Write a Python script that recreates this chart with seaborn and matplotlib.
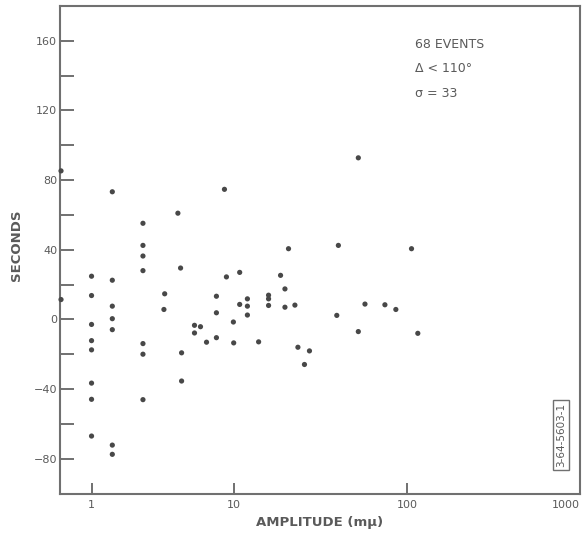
import numpy as np
import pandas as pd
import matplotlib
matplotlib.use("Agg")
import matplotlib.pyplot as plt
import matplotlib.ticker as mticker
import seaborn as sns

# ---- data ----
amplitude = [0.61, 0.61,
             1.0, 1.0, 1.0, 1.0, 1.0, 1.0, 1.0, 1.0,
             1.4, 1.4, 1.4, 1.4, 1.4, 1.4, 1.4,
             2.3, 2.3, 2.3, 2.3, 2.3, 2.3, 2.3,
             3.27, 3.23,
             4.05, 4.23, 4.30, 4.30,
             5.30, 5.30, 5.84, 6.44,
             7.56, 7.56, 7.56,
             8.61, 8.89, 9.95, 10.0,
             10.83, 10.83,
             12.0, 12.0, 12.0,
             13.93,
             15.9, 15.9, 15.9,
             18.65, 19.77, 19.77, 20.73, 22.57, 23.49, 25.63, 27.39,
             39.39, 40.23, 52.45, 52.45, 57.3, 74.7, 86.4, 106.4, 115.7]
seconds = [85.3, 11.4,
           24.8, 13.7, -2.9, -12.2, -17.5, -36.6, -45.9, -67.0,
           73.3, 22.5, 7.6, 0.4, -5.9, -72.2, -77.5,
           55.2, 42.5, 36.4, 28.0, -13.9, -20.0, -46.1,
           14.7, 5.7,
           61.0, 29.5, -19.2, -35.4,
           -3.4, -7.8, -4.2, -13.1,
           13.3, 3.8, -10.5,
           74.7, 24.4, -1.5, -13.5,
           27.0, 8.6,
           11.8, 7.6, 2.5,
           -12.9,
           13.9, 11.8, 8.0,
           25.3, 17.5, 7.0, 40.6, 8.2, -16.0, -25.9, -18.1,
           2.3, 42.5, 92.8, -7.0, 8.8, 8.4, 5.7, 40.6, -8.0]

y_major = [-80, -40, 0, 40, 80, 120, 160]
y_minor = [-60, -20, 20, 60, 100, 140]
x_ticks = [1, 10, 100, 1000]
x_ticklabels = ["1", "10", "100", "1000"]
notes = ["68 EVENTS", "\u0394 < 110\u00b0", "\u03c3 = 33"]
stamp = "3-64-5603-1"

df = pd.DataFrame({"amplitude": amplitude, "seconds": seconds})

sns.set_theme(style="white")
plt.rcParams["font.family"] = ["DejaVu Sans"]

GRAY = "#5a5a5a"
SPINE = "#707070"

fig = plt.figure(figsize=(5.83, 5.36), dpi=100)
ax = fig.add_axes([60 / 583, 1 - 493.5 / 536, 520 / 583, 487.5 / 536])

# hand-drawn log paper: first decade is slightly compressed
K = 142.6 / 173.7


def fwd(x):
    u = np.log10(np.clip(np.asarray(x, dtype=float), 1e-12, None))
    return np.where(u < 1, 1 + (u - 1) * K, u)


def inv(t):
    t = np.asarray(t, dtype=float)
    u = np.where(t < 1, 1 + (t - 1) / K, t)
    return 10 ** u


ax.set_xscale("function", functions=(fwd, inv))

sns.scatterplot(data=df, x="amplitude", y="seconds", ax=ax,
                color="#484848", s=14, edgecolor="none", linewidth=0,
                clip_on=False, zorder=3)

ax.set_xlim(0.6, 1000)
ax.set_ylim(-100, 180)

ax.xaxis.set_major_locator(mticker.FixedLocator(x_ticks))
ax.xaxis.set_minor_locator(mticker.NullLocator())
ax.set_xticklabels(x_ticklabels)
ax.yaxis.set_major_locator(mticker.FixedLocator(y_major))
ax.yaxis.set_minor_locator(mticker.FixedLocator(y_minor))

ax.tick_params(axis="y", which="both", direction="in", length=10, width=1.4,
               color=SPINE, labelsize=8, labelcolor=GRAY, pad=2,
               left=True)
ax.tick_params(axis="x", which="major", direction="in", length=8, width=1.4,
               color=SPINE, labelsize=8, labelcolor=GRAY, pad=5,
               bottom=True)
for lab in ax.get_xticklabels():
    if lab.get_text() == "1000":
        lab.set_horizontalalignment("right")

for sp in ax.spines.values():
    sp.set_color(SPINE)
    sp.set_linewidth(1.5)
    sp.set_visible(True)

ax.set_xlabel("AMPLITUDE (m\u03bc)", fontsize=9.5, color=GRAY,
              fontweight="semibold")
ax.set_ylabel("SECONDS", fontsize=9.5, color=GRAY, fontweight="semibold")
ax.xaxis.set_label_coords(0.5, -0.046)
ax.xaxis.label.set_verticalalignment("top")
ax.yaxis.set_label_coords(-0.071, 0.51)

for i, txt in enumerate(notes):
    ax.text(0.683, 0.922 - i * 0.051, txt, transform=ax.transAxes,
            fontsize=9, color=GRAY, ha="left", va="center")

ax.text(0.963, 0.12, stamp, transform=ax.transAxes, rotation=90,
        fontsize=7.5, color=GRAY, ha="center", va="center",
        bbox=dict(boxstyle="square,pad=0.3", fc="white", ec=SPINE, lw=1.0))

ax.set_facecolor("white")
fig.patch.set_facecolor("white")
fig.savefig("out.png", dpi=100, facecolor="white")
